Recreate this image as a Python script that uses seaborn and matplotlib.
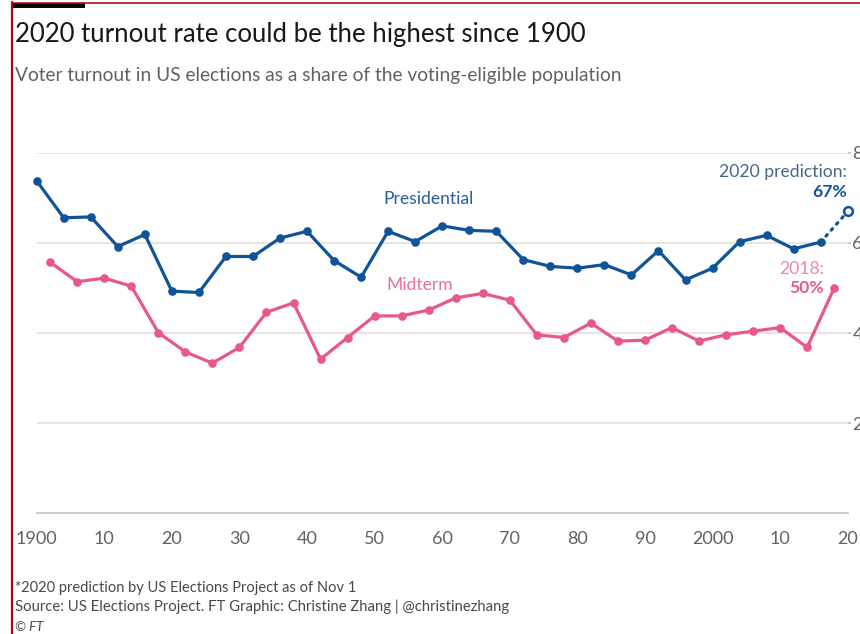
import matplotlib
matplotlib.use("Agg")
import matplotlib.pyplot as plt
from matplotlib.lines import Line2D
from matplotlib.patches import Rectangle
import numpy as np
import pandas as pd
import seaborn as sns

# ---- data: turnout as % of voting-eligible population ----
pres_years = list(range(1900, 2017, 4))
pres_turnout = [73.8, 65.6, 65.8, 59.2, 61.9, 49.3, 49.0, 57.0, 57.0, 61.1,
                62.6, 56.1, 52.4, 62.6, 60.3, 63.8, 62.8, 62.6, 56.3, 54.8,
                54.4, 55.2, 52.9, 58.3, 51.8, 54.4, 60.3, 61.7, 58.7, 60.2]

mid_years = list(range(1902, 2019, 4))
mid_turnout = [55.7, 51.4, 52.2, 50.4, 40.1, 35.8, 33.3, 36.8, 44.6, 46.7,
               34.2, 39.0, 43.8, 43.8, 45.1, 47.8, 48.8, 47.3, 39.6, 39.0,
               42.2, 38.2, 38.4, 41.2, 38.2, 39.6, 40.4, 41.2, 36.8, 50.0]

pred_year = 2020
pred_turnout = 67.0

x_ticks = list(range(1900, 2021, 10))
x_ticklabels = ["1900", "10", "20", "30", "40", "50", "60", "70", "80", "90",
                "2000", "10", "20"]
y_ticks = [20, 40, 60, 80]

BLUE = "#0f5499"
PINK = "#e8588b"
GRID = "#ece4dc"
AXIS = "#d3cac1"
TICKTXT = "#66605c"

df = pd.concat([
    pd.DataFrame({"year": pres_years, "turnout": pres_turnout, "kind": "Presidential"}),
    pd.DataFrame({"year": mid_years, "turnout": mid_turnout, "kind": "Midterm"}),
])
proj = pd.DataFrame({"year": [pres_years[-1], pred_year],
                     "turnout": [pres_turnout[-1], pred_turnout]})

sns.set_style("white")
plt.rcParams["font.family"] = ["Lato", "DejaVu Sans"]

W, H = 860, 634
fig = plt.figure(figsize=(W / 100, H / 100), dpi=100)
ax = fig.add_axes([36.7 / W, (H - 513) / H, 811 / W, 360 / H])

sns.lineplot(data=df, x="year", y="turnout", hue="kind",
             palette={"Presidential": BLUE, "Midterm": PINK},
             marker="o", markersize=6.2, markeredgewidth=0, linewidth=2.3,
             legend=False, ax=ax, zorder=3)
sns.lineplot(data=proj, x="year", y="turnout", color=BLUE, linewidth=2.3,
             linestyle=(0, (0.6, 1.9)), dash_capstyle="round", ax=ax,
             legend=False, zorder=2)
ax.plot([pred_year], [pred_turnout], marker="o", markersize=6.3,
        markerfacecolor="white", markeredgecolor=BLUE, markeredgewidth=1.8,
        linestyle="none", clip_on=False, zorder=4)
for ln in ax.lines:
    ln.set_clip_on(False)

ax.set_xlim(1900, 2020)
ax.set_ylim(0, 80)
ax.set_xticks(x_ticks)
ax.set_xticklabels(x_ticklabels)
ax.set_yticks(y_ticks)
ax.set_yticklabels([str(v) for v in y_ticks])
ax.yaxis.tick_right()
ax.set_xlabel("")
ax.set_ylabel("")

for s in ["left", "right", "top"]:
    ax.spines[s].set_visible(False)
ax.spines["bottom"].set_color(AXIS)
ax.spines["bottom"].set_linewidth(1.4)
ax.yaxis.grid(True, color=GRID, linewidth=1.4)
ax.set_axisbelow(True)

ax.tick_params(axis="x", direction="out", length=9.5, width=1.3, color=AXIS,
               labelcolor=TICKTXT, labelsize=13, pad=3.5)
ax.tick_params(axis="y", direction="out", length=2.5, width=1.2, color="#c9c0b7",
               labelcolor=TICKTXT, labelsize=13, pad=0.8)

# series labels
LBL = 12.6
ax.text(1957.9, 69.8, "Presidential", color="#2a5e9e", fontsize=LBL,
        ha="center", va="center")
ax.text(1956.6, 50.7, "Midterm", color="#ea6f99", fontsize=LBL,
        ha="center", va="center")
ax.text(2019.9, 75.8, "2020 prediction:", color="#46668e", fontsize=LBL,
        ha="right", va="center")
ax.text(2019.9, 71.4, f"{pred_turnout:.0f}%", color=BLUE, fontsize=LBL,
        fontweight="bold", ha="right", va="center")
ax.text(2016.5, 54.3, f"{mid_years[-1]}:", color="#ee86a6", fontsize=LBL,
        ha="right", va="center")
ax.text(2016.5, 49.9, f"{mid_turnout[-1]:.0f}%", color=PINK, fontsize=LBL,
        fontweight="bold", ha="right", va="center")

# headings and footnotes, sized to their measured widths
renderer = fig.canvas.get_renderer()


def fitted_text(x, y, s, width_px, size, **kw):
    t = fig.text(x / W, 1 - y / H, s, fontsize=size, va="baseline", **kw)
    w = t.get_window_extent(renderer).width
    t.set_fontsize(size * width_px / w)
    return t


fitted_text(15, 42, "2020 turnout rate could be the highest since 1900", 571, 17,
            color="#1a1817")
fitted_text(15, 81, "Voter turnout in US elections as a share of the voting-eligible population",
            610, 12.5, color="#66605c")
fitted_text(15, 592, "*2020 prediction by US Elections Project as of Nov 1", 342, 9,
            color="#4d4845")
fitted_text(15, 611, "Source: US Elections Project. FT Graphic: Christine Zhang | @christinezhang",
            497, 9, color="#4d4845")
fig.text(15 / W, 1 - 631 / H, "\u00a9 FT", fontsize=9.5, style="italic",
         color="#4d4845", va="baseline")

# frame accents along the top-left edge
fig.add_artist(Line2D([12 / W, 1], [1 - 2.5 / H, 1 - 2.5 / H],
                      transform=fig.transFigure, color="#b01010", linewidth=1.2))
fig.add_artist(Line2D([11.7 / W, 11.7 / W], [0, 1 - 2 / H],
                      transform=fig.transFigure, color="#a00f0f", linewidth=1.6))
fig.add_artist(Rectangle((12.5 / W, 1 - 7.5 / H), 72.5 / W, 4.5 / H,
                         transform=fig.transFigure, color="black", linewidth=0))

fig.savefig("out.png", dpi=100)
